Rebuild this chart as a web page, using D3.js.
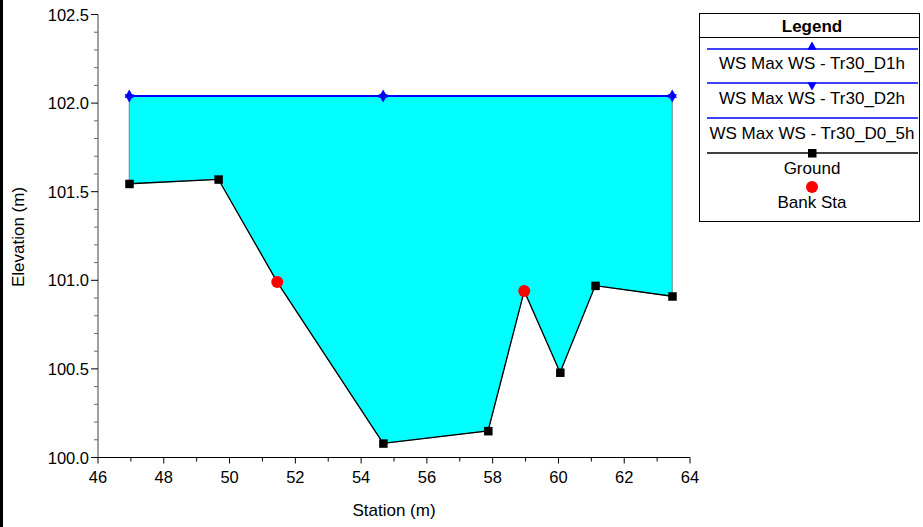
<!DOCTYPE html>
<html><head><meta charset="utf-8">
<script src="https://cdn.jsdelivr.net/npm/d3@7"></script>
<style>body{margin:0;background:#fff;} svg{display:block;font-family:"Liberation Sans",Arial,sans-serif;}</style>
</head><body>
<svg id="c" width="923" height="527"></svg>
<script>
const groundStation = [46.95, 49.66, 51.45, 54.67, 57.86, 58.96, 60.05, 61.12, 63.46];
const groundElev    = [101.545, 101.57, 100.99, 100.08, 100.15, 100.94, 100.48, 100.97, 100.91];
const bankStation = [51.45, 58.96];
const bankElev    = [100.99, 100.94];
const wsStation = [46.95, 54.67, 63.46];
const wsElev    = [102.04, 102.04, 102.04];
const legendLabels = ["WS Max WS - Tr30_D1h", "WS Max WS - Tr30_D2h", "WS Max WS - Tr30_D0_5h", "Ground", "Bank Sta"];
const xTicks = [46, 48, 50, 52, 54, 56, 58, 60, 62, 64];
const yTicks = [100.0, 100.5, 101.0, 101.5, 102.0, 102.5];

const svg = d3.select("#c");
svg.append("rect").attr("x",0).attr("y",0).attr("width",3).attr("height",527).attr("fill","#000");

const x = d3.scaleLinear().domain([46, 64]).range([98, 690]);
const y = d3.scaleLinear().domain([100, 102.5]).range([457.5, 14.5]);

const ground = groundStation.map((s,i)=>({x:s,y:groundElev[i]}));
const ws = wsStation.map((s,i)=>({x:s,y:wsElev[i]}));
const banks = bankStation.map((s,i)=>({x:s,y:bankElev[i]}));

// water fill polygon
const poly = ws.slice().concat(ground.slice().reverse());
svg.append("path")
  .attr("d", d3.line().x(d=>x(d.x)).y(d=>y(d.y))(poly) + "Z")
  .attr("fill", "#00FFFF").attr("stroke", "#6a8a8a").attr("stroke-width", 1);

// ground line
svg.append("path")
  .attr("d", d3.line().x(d=>x(d.x)).y(d=>y(d.y))(ground))
  .attr("fill","none").attr("stroke","#000").attr("stroke-width",1.3);
svg.selectAll(".gm").data(ground.filter(d=>!bankStation.includes(d.x))).enter().append("rect")
  .attr("x", d=>x(d.x)-4).attr("y", d=>y(d.y)-4).attr("width",8.5).attr("height",8.5).attr("fill","#000");

// ws lines
svg.append("path")
  .attr("d", d3.line().x(d=>x(d.x)).y(d=>y(d.y))(ws))
  .attr("fill","none").attr("stroke","#0000FF").attr("stroke-width",2);
const triUp = d3.symbol().type(d3.symbolTriangle).size(38);
ws.forEach(d=>{
  svg.append("path").attr("d", triUp()).attr("transform",`translate(${x(d.x)},${y(d.y)-1})`).attr("fill","#0000FF");
  svg.append("path").attr("d", triUp()).attr("transform",`translate(${x(d.x)},${y(d.y)+1}) rotate(180)`).attr("fill","#0000FF");
});

// bank sta
svg.selectAll(".bk").data(banks).enter().append("circle")
  .attr("cx", d=>x(d.x)).attr("cy", d=>y(d.y)).attr("r",6).attr("fill","#FF0000");

// axes
const xMinor = d3.range(46, 65, 1);
const yMinor = d3.range(0, 26).map(i=>100 + i*0.1);
const ax = svg.append("g");
ax.append("line").attr("x1", x(46)).attr("x2", x(64)).attr("y1", y(100)).attr("y2", y(100)).attr("stroke","#000").attr("stroke-width",1);
xMinor.forEach(v=>{
  const major = xTicks.includes(v);
  ax.append("line").attr("x1",x(v)).attr("x2",x(v)).attr("y1",y(100)).attr("y2",y(100)+(major?6:4)).attr("stroke","#000");
});
xTicks.forEach(v=>{
  ax.append("text").attr("x",x(v)).attr("y",y(100)+25).attr("text-anchor","middle").attr("font-size",16.5).attr("fill","#000").text(v);
});
ax.append("line").attr("x1", x(46)).attr("x2", x(46)).attr("y1", y(100)).attr("y2", y(102.5)).attr("stroke","#808080").attr("stroke-width",1.5);
yMinor.forEach((v,i)=>{
  const major = i%5===0;
  ax.append("line").attr("x1",x(46)-(major?7:4)).attr("x2",x(46)).attr("y1",y(v)).attr("y2",y(v)).attr("stroke", major?"#000":"#666");
});
yTicks.forEach(v=>{
  ax.append("text").attr("x",x(46)-9).attr("y",y(v)+6).attr("text-anchor","end").attr("font-size",16.5).attr("fill","#000").text(d3.format(".1f")(v));
});
svg.append("text").attr("x",394).attr("y",516).attr("text-anchor","middle").attr("font-size",17).text("Station (m)");
svg.append("text").attr("transform","translate(24,237) rotate(-90)").attr("text-anchor","middle").attr("font-size",17).text("Elevation (m)");

// legend
const lg = svg.append("g");
lg.append("rect").attr("x",699.5).attr("y",13.5).attr("width",220).attr("height",208).attr("fill","#fff").attr("stroke","#000");
lg.append("text").attr("x",812).attr("y",32).attr("text-anchor","middle").attr("font-size",17).attr("font-weight","bold").text("Legend");
lg.append("line").attr("x1",699.5).attr("x2",919.5).attr("y1",37.5).attr("y2",37.5).attr("stroke","#000");
const lineY = [49, 83, 118, 153];
const lineCol = ["#0000FF","#0000FF","#0000FF","#000"];
lineY.forEach((ly,i)=>{
  lg.append("line").attr("x1",707).attr("x2",918).attr("y1",ly).attr("y2",ly).attr("stroke",lineCol[i]).attr("stroke-width",1.3);
});
lg.append("path").attr("d", d3.symbol().type(d3.symbolTriangle).size(38)()).attr("transform","translate(812,47)").attr("fill","#0000FF");
lg.append("path").attr("d", d3.symbol().type(d3.symbolTriangle).size(38)()).attr("transform","translate(812,85) rotate(180)").attr("fill","#0000FF");
lg.append("rect").attr("x",808).attr("y",149).attr("width",8.5).attr("height",8.5).attr("fill","#000");
lg.append("circle").attr("cx",812).attr("cy",187).attr("r",6).attr("fill","#FF0000");
const textY = [69, 104, 139, 174, 208];
legendLabels.forEach((t,i)=>{
  lg.append("text").attr("x",812).attr("y",textY[i]).attr("text-anchor","middle").attr("font-size",17).text(t);
});
</script>
</body></html>
